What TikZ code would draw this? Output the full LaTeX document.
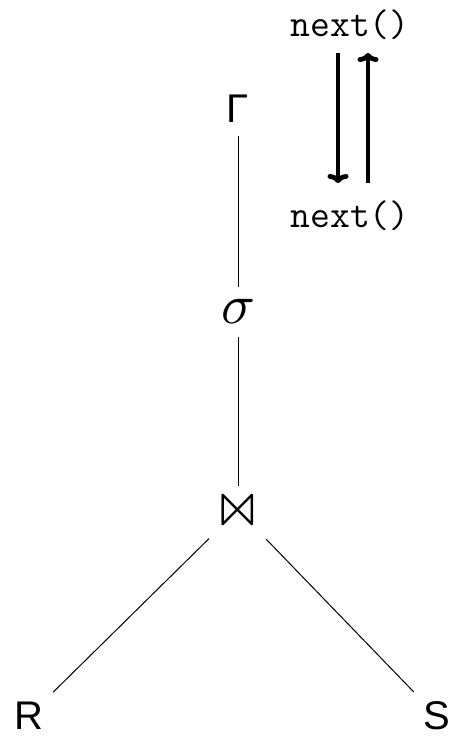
\documentclass[tikz,border=0pt]{standalone}
\usepackage{unicode-math}
\setmainfont{Liberation Sans}
\setmonofont{Latin Modern Mono}
\setmathfont{Latin Modern Math}
\usetikzlibrary{arrows.meta}
\begin{document}
\begin{tikzpicture}[x=1pt,y=-1pt,
  lbl/.style={inner sep=0pt, font=\fontsize{40}{48}\selectfont},
  mono/.style={inner sep=0pt, font=\fontsize{38.5}{46}\selectfont\ttfamily},
  edge/.style={line width=1pt},
  flow/.style={line width=4.8pt, -{To[length=9pt,width=21pt]}}]
\useasboundingbox (0,0) rectangle (467,737);
\node[mono] (T) at (350,25) {next()};
\node[mono] (B) at (350,216) {next()};
\node[lbl] (G) at (238,109) {Γ};
\node[lbl, font=\fontsize{56}{64}\selectfont] (s) at (238,312) {$\sigma$};
\node[lbl, font=\fontsize{62}{70}\selectfont] (J) at (238,510) {$\bowtie$};
\node[lbl] (R) at (29,716) {R};
\node[lbl] (S) at (437,716) {S};
\draw[edge, shorten <=13pt, shorten >=12pt] (G) -- (s);
\draw[edge, shorten <=12pt, shorten >=8pt] (s) -- (J);
\draw[edge, shorten <=18pt, shorten >=14pt] (J) -- (R);
\draw[edge, shorten <=18pt, shorten >=14pt] (J) -- (S);
\draw[flow] ([xshift=-12pt,yshift=-28pt]T.center) -- ([xshift=-12pt,yshift=33pt]B.center);
\draw[flow] ([xshift=18pt,yshift=33pt]B.center) -- ([xshift=18pt,yshift=-28pt]T.center);
\end{tikzpicture}
\end{document}
